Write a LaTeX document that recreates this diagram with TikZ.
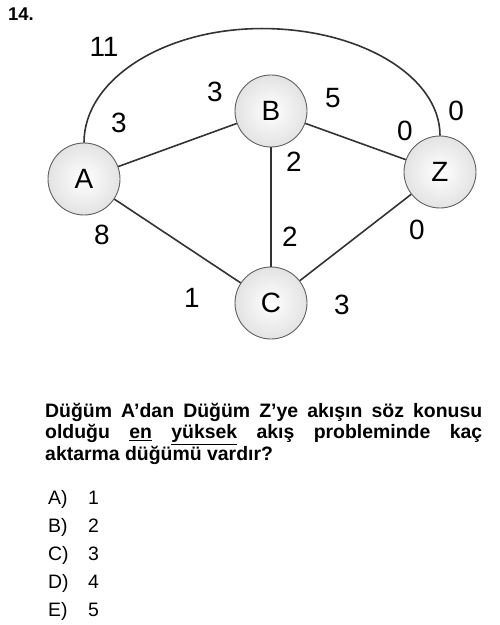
\documentclass[tikz,border=0pt]{standalone}
\usepackage{fontspec}
\setmainfont{Liberation Sans}
\tikzset{
  vertex/.style={circle, draw=gray!75!black, line width=0.9bp, inner color=white, outer color=gray!22,
    minimum size=72bp, inner sep=0pt, font=\fontsize{28}{28}\selectfont},
  link/.style={line width=1.6bp, draw=black!80},
  weight/.style={inner sep=0pt, font=\fontsize{28}{28}\selectfont}
}
\begin{document}
\begin{tikzpicture}[x=1bp,y=1bp]
    \useasboundingbox (0,0) rectangle (500,-625);
    \node[anchor=base west, inner sep=0pt, font=\bfseries\fontsize{18.5}{18.5}\selectfont] (num) at (8,-21) {14.};
    % nodes
    \node[vertex] (A) at (84,-179) {A};
    \node[vertex] (B) at (271,-111) {B};
    \node[vertex] (C) at (271,-303) {C};
    \node[vertex] (Z) at (440,-172) {Z};
    % edges
    \draw[link] (A.north) arc[start angle=180, end angle=90, x radius=178, y radius=114]
        arc[start angle=90, end angle=0, x radius=178, y radius=107] -- (Z.north);
    \draw[link] (A) -- (B);
    \draw[link] (B) -- (Z);
    \draw[link] (B) -- (C);
    \draw[link] (A) -- (C);
    \draw[link] (C) -- (Z);
    % capacities
    \node[weight] (az1) at (104,-47) {11};
    \node[weight] (az2) at (456,-111) {0};
    \node[weight] (ab1) at (119,-123) {3};
    \node[weight] (ab2) at (215,-92) {3};
    \node[weight] (bz1) at (333,-98) {5};
    \node[weight] (bz2) at (405,-131) {0};
    \node[weight] (bc1) at (294,-162) {2};
    \node[weight] (bc2) at (290,-237) {2};
    \node[weight] (ac1) at (102,-235) {8};
    \node[weight] (ac2) at (192,-298) {1};
    \node[weight] (cz1) at (342,-305) {3};
    \node[weight] (cz2) at (417,-230) {0};
    % question
    \node[anchor=base west, inner sep=0pt, text width=437bp, align=justify,
          font=\bfseries\fontsize{19.5}{22}\selectfont] (soru) at (45,-417)
        {Düğüm A’dan Düğüm Z’ye akışın söz konusu\linebreak
         olduğu \underline{en} \underline{yüksek} akış probleminde kaç\linebreak
         aktarma düğümü vardır?};
    \foreach \l/\v/\y in {A/1/504, B/2/532, C/3/560, D/4/588, E/5/616} {
        \node[anchor=base west, inner sep=0pt, font=\fontsize{19.5}{19.5}\selectfont] (opt\l) at (48,-\y) {\l)};
        \node[anchor=base west, inner sep=0pt, font=\fontsize{19.5}{19.5}\selectfont] (val\l) at (88,-\y) {\v};
    }
\end{tikzpicture}
\end{document}
